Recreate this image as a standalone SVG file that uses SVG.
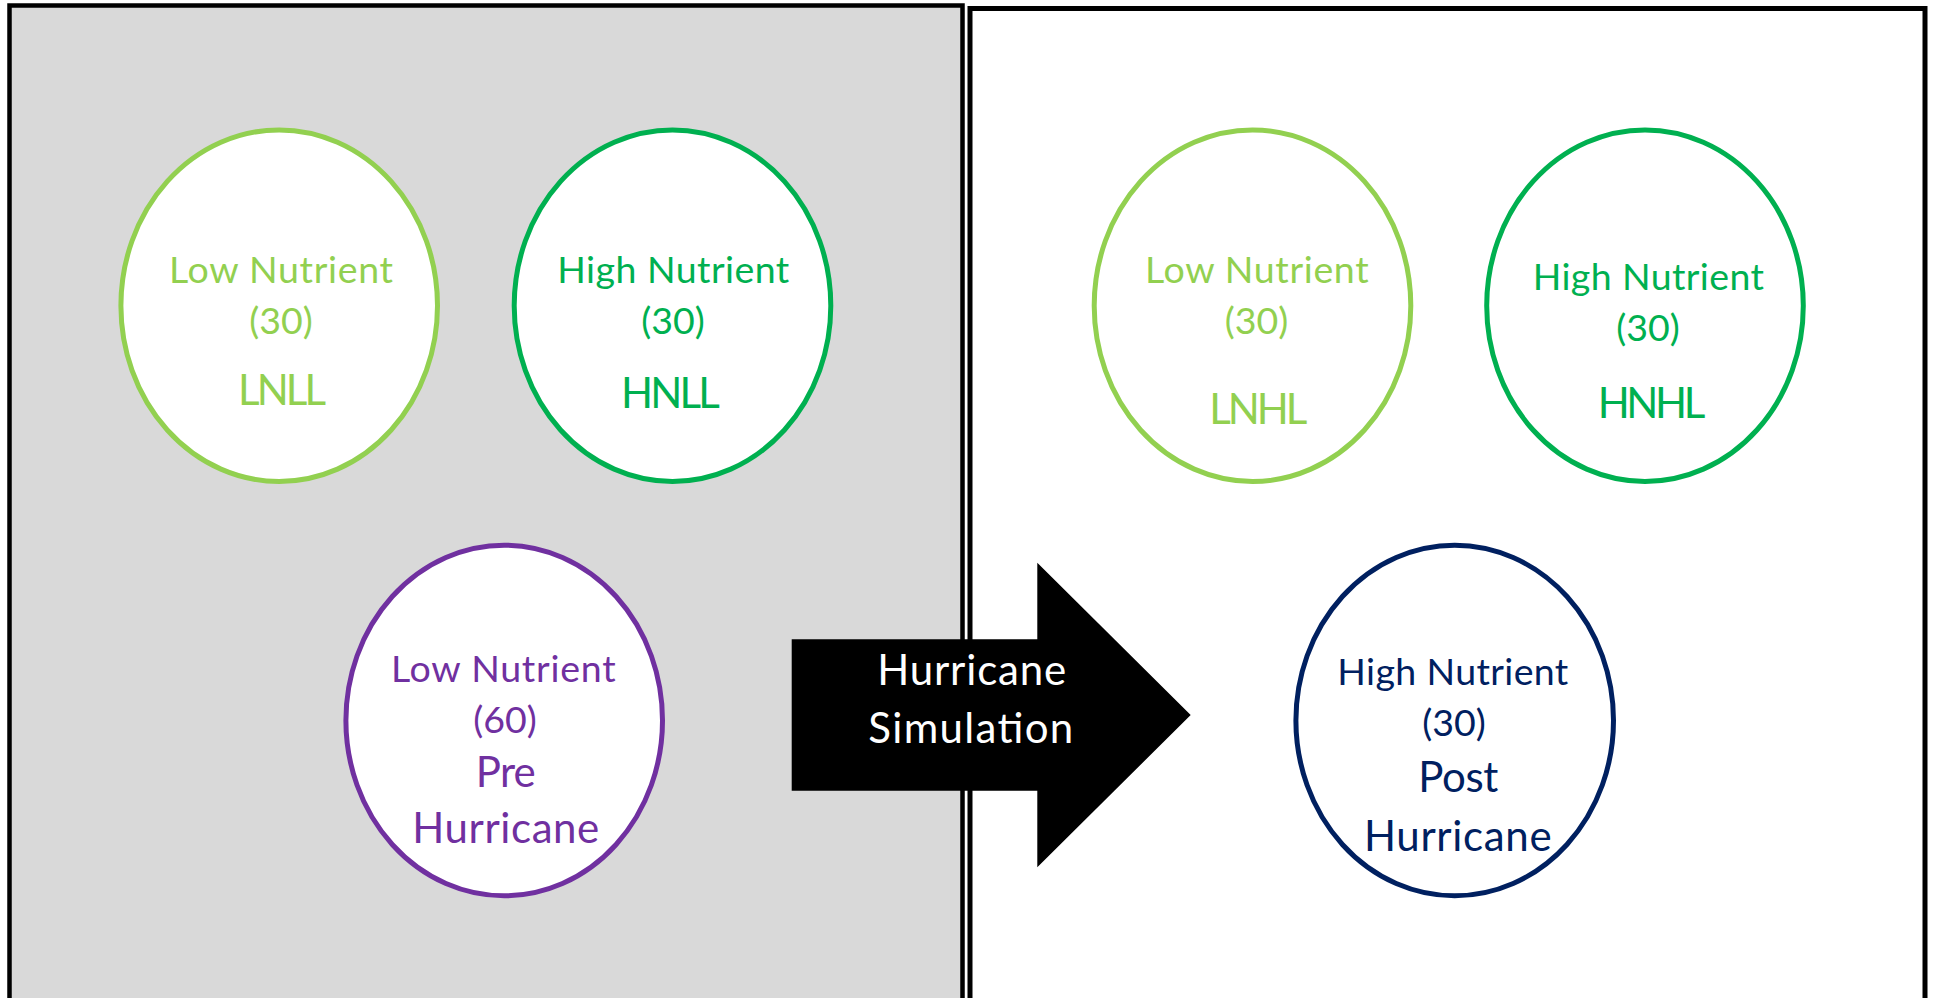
<svg xmlns="http://www.w3.org/2000/svg" width="1937" height="998" viewBox="0 0 1937 998">
  <style>
    .panel { stroke: #000000; }
    .node { fill: #ffffff; stroke-width: 5; }
    text { font-family: Lato, "Open Sans", "Liberation Sans", sans-serif; text-anchor: middle; }
    .sm { font-size: 37.5px; }
    .lg { font-size: 42px; }
    .lgreen { fill: #92d050; }
    .green { fill: #00b050; }
    .purple { fill: #7030a0; }
    .navy { fill: #002060; }
  </style>

  <g id="panels">
    <rect id="pre-panel" class="panel" x="9.5" y="5.5" width="953" height="1100" fill="#d9d9d9" stroke-width="4.5"/>
    <rect id="post-panel" class="panel" x="970" y="8.5" width="955" height="1100" fill="#ffffff" stroke-width="5"/>
  </g>

  <g id="LNLL">
    <ellipse class="node" cx="279.2" cy="305.7" rx="158.3" ry="175.8" stroke="#92d050"/>
    <text class="sm lgreen" x="281" y="282.7" textLength="224">Low Nutrient</text>
    <text class="sm lgreen" x="281" y="334">(30)</text>
    <text class="lg lgreen" x="282" y="405" textLength="88">LNLL</text>
  </g>

  <g id="HNLL">
    <ellipse class="node" cx="672.5" cy="305.7" rx="158.3" ry="175.8" stroke="#00b050"/>
    <text class="sm green" x="673.3" y="283.3" textLength="232">High Nutrient</text>
    <text class="sm green" x="673" y="334">(30)</text>
    <text class="lg green" x="670.4" y="408.3" textLength="99">HNLL</text>
  </g>

  <g id="LNHL">
    <ellipse class="node" cx="1252.5" cy="305.7" rx="158.3" ry="175.8" stroke="#92d050"/>
    <text class="sm lgreen" x="1256.8" y="283.3" textLength="223.7">Low Nutrient</text>
    <text class="sm lgreen" x="1256.5" y="334">(30)</text>
    <text class="lg lgreen" x="1258.3" y="424" textLength="98">LNHL</text>
  </g>

  <g id="HNHL">
    <ellipse class="node" cx="1645" cy="305.7" rx="158.3" ry="175.8" stroke="#00b050"/>
    <text class="sm green" x="1648.3" y="290" textLength="231.3">High Nutrient</text>
    <text class="sm green" x="1648" y="340.7">(30)</text>
    <text class="lg green" x="1651.5" y="418.3" textLength="107.6">HNHL</text>
  </g>

  <g id="pre-hurricane">
    <ellipse class="node" cx="504.2" cy="720.5" rx="158.3" ry="175.3" stroke="#7030a0"/>
    <text class="sm purple" x="503.3" y="681.7" textLength="224.7">Low Nutrient</text>
    <text class="sm purple" x="505" y="732.7">(60)</text>
    <text class="lg purple" x="505.8" y="786.7" textLength="60">Pre</text>
    <text class="lg purple" x="505.8" y="843.3" textLength="187">Hurricane</text>
  </g>

  <g id="post-hurricane">
    <ellipse class="node" cx="1454.7" cy="720.5" rx="158.8" ry="175.3" stroke="#002060"/>
    <text class="sm navy" x="1452.8" y="685" textLength="231">High Nutrient</text>
    <text class="sm navy" x="1454" y="735.7">(30)</text>
    <text class="lg navy" x="1458.3" y="791.7" textLength="80">Post</text>
    <text class="lg navy" x="1457.8" y="850.7" textLength="187.7">Hurricane</text>
  </g>

  <g id="connectors">
    <g id="hurricane-simulation">
      <polygon points="791.7,639.3 1037.3,639.3 1037.3,562.7 1190.7,715 1037.3,867.3 1037.3,790.7 791.7,790.7" fill="#000000"/>
      <text class="lg" x="971.7" y="685" fill="#ffffff" textLength="189">Hurricane</text>
      <text class="lg" x="970.8" y="742.7" fill="#ffffff" textLength="205">Simulation</text>
    </g>
  </g>
</svg>
